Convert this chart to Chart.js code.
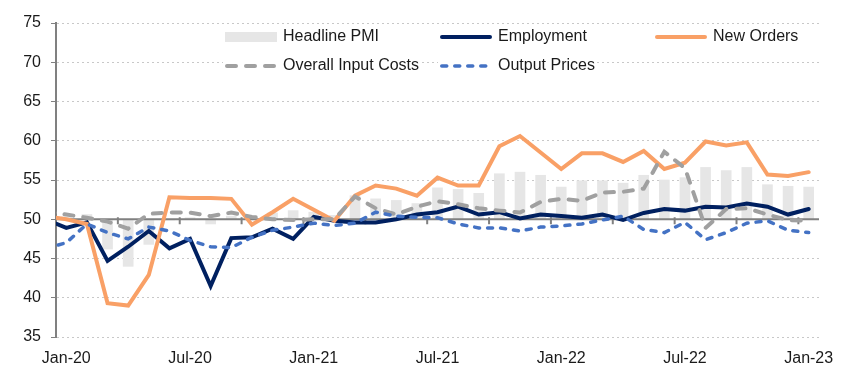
<!DOCTYPE html>
<html>
<head>
<meta charset="utf-8">
<script src="https://cdn.jsdelivr.net/npm/chart.js@4.4.0/dist/chart.umd.min.js"></script>
<style>
  body { margin: 0; background: #fff; }
  #wrap { width: 855px; height: 375px; }
</style>
</head>
<body>
<div id="wrap"><canvas id="pmi" width="855" height="375"></canvas></div>
<script>
// Dec-19 is only there so the lines run in from the left edge, as in the original
const months = ['Dec-19',
  'Jan-20','Feb-20','Mar-20','Apr-20','May-20','Jun-20','Jul-20','Aug-20','Sep-20','Oct-20','Nov-20','Dec-20',
  'Jan-21','Feb-21','Mar-21','Apr-21','May-21','Jun-21','Jul-21','Aug-21','Sep-21','Oct-21','Nov-21','Dec-21',
  'Jan-22','Feb-22','Mar-22','Apr-22','May-22','Jun-22','Jul-22','Aug-22','Sep-22','Oct-22','Nov-22','Dec-22',
  'Jan-23'];

const headlinePMI = [null,
  50.3, 50.6, 46.2, 44.0, 46.8, 49.9, 50.2, 49.4, 50.4, 50.2, 50.8, 51.1,
  50.9, 50.5, 53.0, 52.6, 52.4, 52.0, 54.0, 53.8, 53.3, 55.8, 56.0, 55.6,
  54.1, 54.9, 54.9, 54.6, 55.6, 55.0, 55.3, 56.6, 56.2, 56.6, 54.4, 54.2,
  54.1];
const employment = [50.0,
  48.9, 49.6, 44.7, 46.5, 48.5, 46.3, 47.5, 41.5, 47.6, 47.7, 48.8, 47.5,
  50.3, 49.8, 49.6, 49.6, 50.0, 50.6, 50.9, 51.6, 50.6, 50.9, 50.1, 50.6,
  50.4, 50.2, 50.6, 49.9, 50.8, 51.3, 51.1, 51.6, 51.5, 52.0, 51.6, 50.6,
  51.3];
const newOrders = [50.4,
  50.0, 49.4, 39.3, 39.0, 42.9, 52.8, 52.7, 52.7, 52.6, 49.3, 50.9, 52.6,
  51.2, 49.8, 53.0, 54.3, 53.9, 53.0, 55.3, 54.3, 54.3, 59.3, 60.6, 58.5,
  56.4, 58.4, 58.4, 57.3, 58.7, 56.4, 57.2, 59.9, 59.4, 59.8, 55.7, 55.5,
  56.0];
const inputCosts = [51.0,
  50.6, 50.2, 49.7, 48.8, 50.7, 50.85, 50.85, 50.4, 50.85, 50.3, 50.0, 49.9,
  50.0, 50.0, 52.9, 51.4, 50.6, 51.6, 52.3, 51.9, 51.4, 51.1, 50.85, 52.2,
  52.6, 52.35, 53.4, 53.5, 53.9, 58.6, 56.5, 48.9, 51.3, 51.4, 50.6, 49.9,
  49.8];
const outputPrices = [46.3,
  47.0, 49.4, 48.3, 47.5, 49.0, 48.5, 47.3, 46.5, 46.4, 47.7, 48.6, 49.0,
  49.5, 49.2, 49.5, 50.9, 50.4, 50.25, 50.2, 49.4, 48.9, 48.9, 48.5, 49.0,
  49.15, 49.4, 49.9, 50.4, 48.7, 48.3, 49.6, 47.4, 48.3, 49.5, 49.8, 48.6,
  48.3];

const FONT = '"Liberation Sans", Arial, sans-serif';
Chart.defaults.font.family = FONT;
Chart.defaults.font.size = 16;
Chart.defaults.color = '#1a1a1a';

// horizontal axis line at 50, drawn right after the bars
const midAxis = {
  id: 'midAxis',
  afterDatasetDraw(chart, args) {
    if (args.index !== 0) return;
    const {ctx, chartArea, scales: {x, y}} = chart;
    const yy = y.getPixelForValue(50);
    const step = x.getPixelForValue(x.min + 1) - x.getPixelForValue(x.min);
    ctx.save();
    ctx.strokeStyle = '#808080';
    ctx.lineWidth = 2;
    ctx.beginPath();
    ctx.moveTo(chartArea.left, yy);
    ctx.lineTo(chartArea.right, yy);
    for (let k = x.min; k <= x.max; k += 3) {
      const px = x.getPixelForValue(k) - step / 2;
      ctx.moveTo(px, yy - 2);
      ctx.lineTo(px, yy + 5);
    }
    ctx.stroke();
    ctx.restore();
  }
};

// two-row legend sitting inside the plot
const gridLegend = {
  id: 'gridLegend',
  afterDraw(chart) {
    const ctx = chart.ctx;
    const cols = [225, 440, 655];
    const rows = [37, 66];
    ctx.save();
    ctx.font = '16px ' + FONT;
    ctx.textBaseline = 'middle';
    chart.data.datasets.forEach((ds, i) => {
      const x = cols[i % 3], y = rows[Math.floor(i / 3)];
      const w = ctx.measureText(ds.label).width;
      ctx.fillStyle = '#fff';
      ctx.fillRect(x - 2, y - 10, 62 + w, 20);
      if (ds.type === 'bar') {
        ctx.fillStyle = ds.backgroundColor;
        ctx.fillRect(x, y - 5, 52, 10);
      } else {
        ctx.strokeStyle = ds.borderColor;
        ctx.lineWidth = ds.borderWidth;
        ctx.lineCap = ds.borderCapStyle || 'butt';
        ctx.setLineDash(ds.borderDash || []);
        ctx.beginPath();
        ctx.moveTo(x + ctx.lineWidth / 2, y);
        ctx.lineTo(x + 52 - ctx.lineWidth / 2, y);
        ctx.stroke();
        ctx.setLineDash([]);
      }
      ctx.fillStyle = '#1a1a1a';
      ctx.fillText(ds.label, x + 58, y);
    });
    ctx.restore();
  }
};

const pmi = document.getElementById('pmi');

new Chart(pmi, {
  type: 'bar',
  data: {
    labels: months,
    datasets: [{
      type: 'bar',
      label: 'Headline PMI',
      data: headlinePMI,
      base: 50,
      backgroundColor: '#e6e6e6',
      barThickness: 10,
      order: 10
    }, {
      type: 'line',
      label: 'Employment',
      data: employment,
      borderColor: '#002060',
      borderWidth: 4,
      borderCapStyle: 'round',
      order: 4
    }, {
      type: 'line',
      label: 'New Orders',
      data: newOrders,
      borderColor: '#f9a066',
      borderWidth: 4,
      borderCapStyle: 'round',
      order: 3
    }, {
      type: 'line',
      label: 'Overall Input Costs',
      data: inputCosts,
      borderColor: '#a0a0a0',
      borderWidth: 4,
      borderDash: [9, 10],
      borderCapStyle: 'round',
      order: 2
    }, {
      type: 'line',
      label: 'Output Prices',
      data: outputPrices,
      borderColor: '#4472c4',
      borderWidth: 3.5,
      borderDash: [5, 8],
      borderCapStyle: 'round',
      order: 1
    }]
  },
  options: {
    responsive: false,
    animation: false,
    layout: { padding: { top: 23, right: 36, left: 0, bottom: 0 } },
    elements: {
      line: { tension: 0, fill: false },
      point: { radius: 0 }
    },
    datasets: { line: { clip: 0 }, bar: { clip: 0 } },
    plugins: {
      legend: { display: false },
      tooltip: { enabled: false }
    },
    scales: {
      x: {
        min: 'Jan-20',
        grid: { display: false, drawTicks: false },
        border: { display: false },
        ticks: {
          autoSkip: false,
          maxRotation: 0,
          padding: 12,
          callback: function (value) {
            return (value - 1) % 6 === 0 ? this.getLabelForValue(value) : '';
          }
        },
        afterFit: (s) => { s.height = 38; }
      },
      y: {
        min: 35,
        max: 75,
        ticks: { stepSize: 5, padding: 10 },
        grid: { color: '#c8c8c8', tickColor: '#808080', tickLength: 5 },
        border: { color: '#808080', width: 2, dash: [2, 3] },
        afterFit: (s) => { s.width = 56; }
      }
    }
  },
  plugins: [midAxis, gridLegend]
});
</script>
</body>
</html>
